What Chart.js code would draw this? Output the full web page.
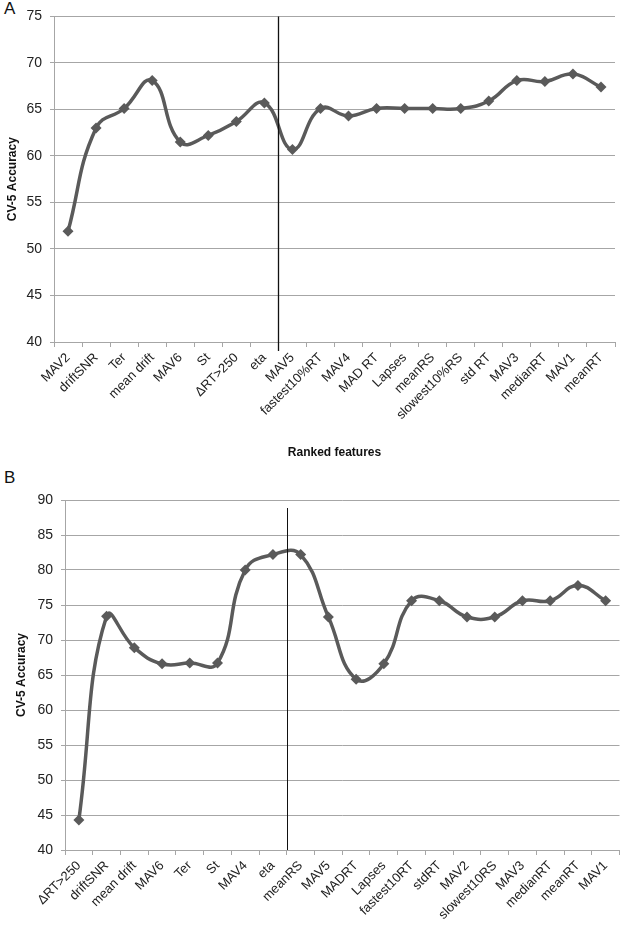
<!DOCTYPE html>
<html>
<head>
<meta charset="utf-8">
<script src="https://cdn.jsdelivr.net/npm/chart.js@4/dist/chart.umd.min.js"></script>
<style>
  html, body { margin: 0; padding: 0; background: #fff; }
  #wrap { position: relative; width: 625px; height: 930px; overflow: hidden; }
  .panel { position: absolute; left: 0; width: 625px; }
  .tag { position: absolute; font-family: "Liberation Sans", Arial, sans-serif; font-size: 17px; color: #111; }
</style>
</head>
<body>
<div id="wrap">
  <div class="tag" style="left:4px; top:-1px;">A</div>
  <div class="tag" style="left:4px; top:468px;">B</div>
  <div class="panel" style="top:0; height:465px;"><canvas id="cA" width="625" height="465"></canvas></div>
  <div class="panel" style="top:465px; height:465px;"><canvas id="cB" width="625" height="465"></canvas></div>
</div>
<script>
// ---------- Data ----------
const featuresA = ["MAV2", "driftSNR", "Ter", "mean drift", "MAV6", "St", "\u0394RT>250", "eta",
  "MAV5", "fastest10%RT", "MAV4", "MAD RT", "Lapses", "meanRS", "slowest10%RS", "std RT",
  "MAV3", "medianRT", "MAV1", "meanRT"];
const accuracyA = [51.9, 63.0, 65.1, 68.1, 61.5, 62.2, 63.7, 65.7,
  60.7, 65.1, 64.3, 65.1, 65.1, 65.1, 65.1, 65.9,
  68.1, 68.0, 68.8, 67.4];

const featuresB = ["\u0394RT>250", "driftSNR", "mean drift", "MAV6", "Ter", "St", "MAV4", "eta",
  "meanRS", "MAV5", "MADRT", "Lapses", "fastest10RT", "stdRT", "MAV2", "slowest10RS",
  "MAV3", "medianRT", "meanRT", "MAV1"];
const accuracyB = [44.3, 73.4, 68.9, 66.6, 66.7, 66.7, 80.0, 82.2,
  82.2, 73.3, 64.4, 66.6, 75.6, 75.6, 73.3, 73.3,
  75.6, 75.6, 77.8, 75.6];

const yTicksA = { min: 40, max: 75, step: 5 };
const yTicksB = { min: 40, max: 90, step: 5 };
const dividerAfterA = "eta";
const dividerAfterB = "eta";

// ---------- Styling / helpers ----------
const FONT = '"Liberation Sans", Arial, sans-serif';
const LINE_COLOR = '#5a5a5a';
const GRID_COLOR = '#a6a6a6';

const dividerPlugin = {
  id: 'divider',
  afterDatasetsDraw(chart, args, opts) {
    const x = chart.scales.x;
    const idx = chart.data.labels.indexOf(opts.after);
    if (idx < 0) return;
    const px = x.getPixelForValue(idx + 0.5);
    const ca = chart.chartArea;
    const ctx = chart.ctx;
    ctx.save();
    ctx.strokeStyle = '#111';
    ctx.lineWidth = opts.width;
    ctx.beginPath();
    ctx.moveTo(Math.round(px) + 0.5, ca.top + opts.topInset);
    ctx.lineTo(Math.round(px) + 0.5, ca.bottom + opts.bottomExtra);
    ctx.stroke();
    ctx.restore();
  }
};

function makeChart(id, labels, values, yt, cfg) {
  return new Chart(document.getElementById(id), {
    type: 'line',
    data: {
      labels: labels,
      datasets: [{
        data: values,
        borderColor: LINE_COLOR,
        backgroundColor: LINE_COLOR,
        borderWidth: 3.5,
        tension: 0.45,
        pointStyle: 'rectRot',
        pointRadius: 5.5,
        pointBorderWidth: 0,
        pointBackgroundColor: LINE_COLOR,
        fill: false
      }]
    },
    options: {
      responsive: false,
      animation: false,
      events: [],
      layout: { padding: { left: 0, right: cfg.padRight, top: cfg.padTop, bottom: 0 } },
      plugins: {
        legend: { display: false },
        tooltip: { enabled: false },
        divider: { after: cfg.dividerAfter, width: cfg.dividerWidth, topInset: cfg.dividerTopInset, bottomExtra: cfg.dividerBottomExtra }
      },
      scales: {
        x: {
          type: 'category',
          offset: true,
          grid: { display: true, drawOnChartArea: false, drawTicks: true, tickLength: 5, color: GRID_COLOR, offset: true },
          border: { display: true, color: GRID_COLOR, width: 1 },
          ticks: {
            autoSkip: false, maxRotation: 45, minRotation: 45, padding: 3,
            color: '#222', font: { family: FONT, size: 13 }
          },
          title: cfg.xTitle ? {
            display: true, text: cfg.xTitle, color: '#111',
            font: { family: FONT, size: 12, weight: 'bold' }, padding: { top: 0, bottom: 5 }
          } : { display: false },
          afterFit(scale) { scale.height = cfg.xHeight; }
        },
        y: {
          min: yt.min, max: yt.max,
          grid: { color: GRID_COLOR, lineWidth: 1, tickLength: 4, drawTicks: true },
          border: { display: true, color: GRID_COLOR, width: 1 },
          ticks: { stepSize: yt.step, padding: 8, color: '#222', font: { family: FONT, size: 14 } },
          title: {
            display: true, text: 'CV-5 Accuracy', color: '#111',
            font: { family: FONT, size: 12, weight: 'bold' }, padding: { top: cfg.yTitlePad, bottom: 0 }
          },
          afterFit(scale) { scale.width = cfg.yWidth; }
        }
      }
    },
    plugins: [dividerPlugin]
  });
}

makeChart('cA', featuresA, accuracyA, yTicksA, {
  padRight: 10, padTop: 10, xHeight: 123, yWidth: 54, yTitlePad: 5,
  xTitle: 'Ranked features',
  dividerAfter: dividerAfterA, dividerWidth: 1.3, dividerTopInset: 0, dividerBottomExtra: 9
});

makeChart('cB', featuresB, accuracyB, yTicksB, {
  padRight: 5, padTop: 35, xHeight: 80, yWidth: 65, yTitlePad: 14,
  xTitle: null,
  dividerAfter: dividerAfterB, dividerWidth: 1, dividerTopInset: 8, dividerBottomExtra: 0
});
</script>
</body>
</html>
